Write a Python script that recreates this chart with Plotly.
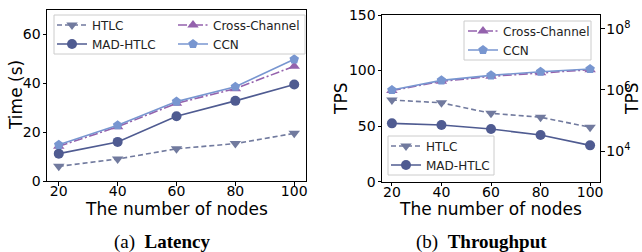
import plotly.graph_objects as go

# ---------------- data ----------------
nodes = [20, 40, 60, 80, 100]

lat_htlc = [6.0, 9.0, 13.2, 15.3, 19.5]
lat_mad = [11.2, 16.0, 26.5, 32.8, 39.5]
lat_cross = [14.2, 22.2, 31.8, 37.8, 47.0]
lat_ccn = [14.8, 22.8, 32.5, 38.6, 49.8]

tps_htlc = [73.5, 71.0, 61.5, 58.0, 49.0]
tps_mad = [52.5, 51.0, 47.4, 42.0, 32.7]
tps_cross = [82.0, 90.3, 94.8, 98.0, 100.8]
tps_ccn = [82.5, 91.2, 95.7, 99.0, 101.4]

x_ticks = [20, 40, 60, 80, 100]
lat_ticks = [0, 20, 40, 60]
tps_ticks = [0, 50, 100, 150]
log_tickvals = [1e4, 1e6, 1e8]
log_ticktext = ["10<sup>4</sup>", "10<sup>6</sup>", "10<sup>8</sup>"]

# ---------------- styles ----------------
W, H = 642, 252
C_HTLC = "#717a9e"
C_MAD = "#4f5b91"
C_CROSS = "#9462ad"
C_CCN = "#7896d0"
FONT = "DejaVu Sans"
LW = 1.6
TICK_SIZE = 14

def px_x(p):
    return p / W

def px_y(p):
    return 1 - p / H

series = [
    ("HTLC", C_HTLC, "triangle-down", "5px,3px", 10),
    ("MAD-HTLC", C_MAD, "circle", "solid", 10),
    ("Cross-Channel", C_CROSS, "triangle-up", "9px,2.5px,2px,2.5px", 10),
    ("CCN", C_CCN, "pentagon", "solid", 10),
]

fig = go.Figure()

left_data = [lat_htlc, lat_mad, lat_cross, lat_ccn]
right_data = [tps_htlc, tps_mad, tps_cross, tps_ccn]
left_legends = ["legend", "legend", "legend2", "legend2"]
right_legends = ["legend4", "legend4", "legend3", "legend3"]

for (name, col, sym, dash, ms), ys, lg in zip(series, left_data, left_legends):
    fig.add_trace(go.Scatter(
        x=nodes, y=ys, name=name, mode="lines+markers",
        line=dict(color=col, width=LW, dash=dash),
        marker=dict(symbol=sym, size=ms, color=col),
        xaxis="x", yaxis="y", legend=lg,
    ))

for (name, col, sym, dash, ms), ys, lg in zip(series, right_data, right_legends):
    fig.add_trace(go.Scatter(
        x=nodes, y=ys, name=name, mode="lines+markers",
        line=dict(color=col, width=LW, dash=dash),
        marker=dict(symbol=sym, size=ms, color=col),
        xaxis="x2", yaxis="y2", legend=lg,
    ))

# invisible trace to activate the log twin axis
fig.add_trace(go.Scatter(x=[None], y=[None], xaxis="x2", yaxis="y3",
                         showlegend=False, hoverinfo="skip"))

axis_common = dict(
    showline=True, linecolor="black", linewidth=1, mirror=True,
    ticks="outside", ticklen=3.5, tickwidth=1, tickcolor="black",
    showgrid=False, zeroline=False, automargin=False,
    tickfont=dict(family=FONT, size=TICK_SIZE, color="black"),
)
xaxis_extra = dict(ticklabelstandoff=-6)
yaxis_extra = dict(ticklabelstandoff=-1)

fig.update_layout(
    template="none",
    width=W, height=H,
    margin=dict(l=0, r=0, t=0, b=0, autoexpand=False),
    paper_bgcolor="white", plot_bgcolor="white",
    showlegend=True,
    xaxis=dict(domain=[px_x(47), px_x(306)], range=[16, 104],
               tickvals=x_ticks, anchor="y", **axis_common, **xaxis_extra),
    yaxis=dict(domain=[px_y(181), px_y(10)], range=[0, 70],
               tickvals=lat_ticks, anchor="x", **axis_common, **yaxis_extra),
    xaxis2=dict(domain=[px_x(382), px_x(600)], range=[16, 104],
                tickvals=x_ticks, anchor="y2", **axis_common, **xaxis_extra),
    yaxis2=dict(domain=[px_y(181.7), px_y(15)], range=[0, 150],
                tickvals=tps_ticks, anchor="x2", **axis_common, **yaxis_extra),
    yaxis3=dict(overlaying="y2", side="right", anchor="x2", type="log",
                range=[3.0, 8.45], tickvals=log_tickvals, ticktext=log_ticktext,
                showline=False, ticks="outside", ticklen=3.5, tickcolor="black",
                showgrid=False, zeroline=False, automargin=False,
                ticklabelstandoff=-1,
                tickfont=dict(family=FONT, size=TICK_SIZE, color="black")),
)

leg_font = dict(family=FONT, size=12, color="#222")
leg_common = dict(
    font=leg_font, bgcolor="rgba(0,0,0,0)", borderwidth=0,
    itemwidth=30, xanchor="left", yanchor="top",
)

# legend rows: first row sits ~14.5 px below the legend top in plotly
fig.update_layout(
    legend=dict(x=px_x(52), y=px_y(10.5), **leg_common),
    legend2=dict(x=px_x(173), y=px_y(10.5), **leg_common),
    legend3=dict(x=px_x(463), y=px_y(16.5), **leg_common),
    legend4=dict(x=px_x(386), y=px_y(131.5), **leg_common),
)

# legend frames (matplotlib-style light boxes)
legend_boxes = [
    (54, 305, 15, 54),
    (464, 591, 21, 60),
    (388, 494, 136, 175),
]
for x0, x1, y0, y1 in legend_boxes:
    fig.add_shape(type="rect", xref="paper", yref="paper",
                  x0=px_x(x0), x1=px_x(x1), y0=px_y(y1), y1=px_y(y0),
                  line=dict(color="#cccccc", width=1),
                  fillcolor="rgba(255,255,255,0.8)", layer="above")

ann_font = dict(family=FONT, size=17, color="black")
annotations = [
    dict(text="Time (s)", x=px_x(15.5), y=px_y(95.5), textangle=-90, font=ann_font),
    dict(text="The number of nodes", x=px_x(176.5), y=px_y(209), font=ann_font),
    dict(text="TPS", x=px_x(341), y=px_y(99), textangle=-90, font=ann_font),
    dict(text="TPS", x=px_x(632), y=px_y(99), textangle=-90, font=ann_font),
    dict(text="The number of nodes", x=px_x(490.5), y=px_y(209), font=ann_font),
    dict(text="(a)  <b>Latency</b>", x=px_x(163), y=px_y(242),
         font=dict(family="Liberation Serif", size=19, color="black")),
    dict(text="(b)  <b>Throughput</b>", x=px_x(481), y=px_y(242),
         font=dict(family="Liberation Serif", size=19, color="black")),
]
for a in annotations:
    fig.add_annotation(xref="paper", yref="paper", showarrow=False,
                       xanchor="center", yanchor="middle", **a)

fig.write_html(
    "out.html",
    config={"displayModeBar": False},
    post_script="document.body.style.margin='0';document.body.style.overflow='hidden';",
)
